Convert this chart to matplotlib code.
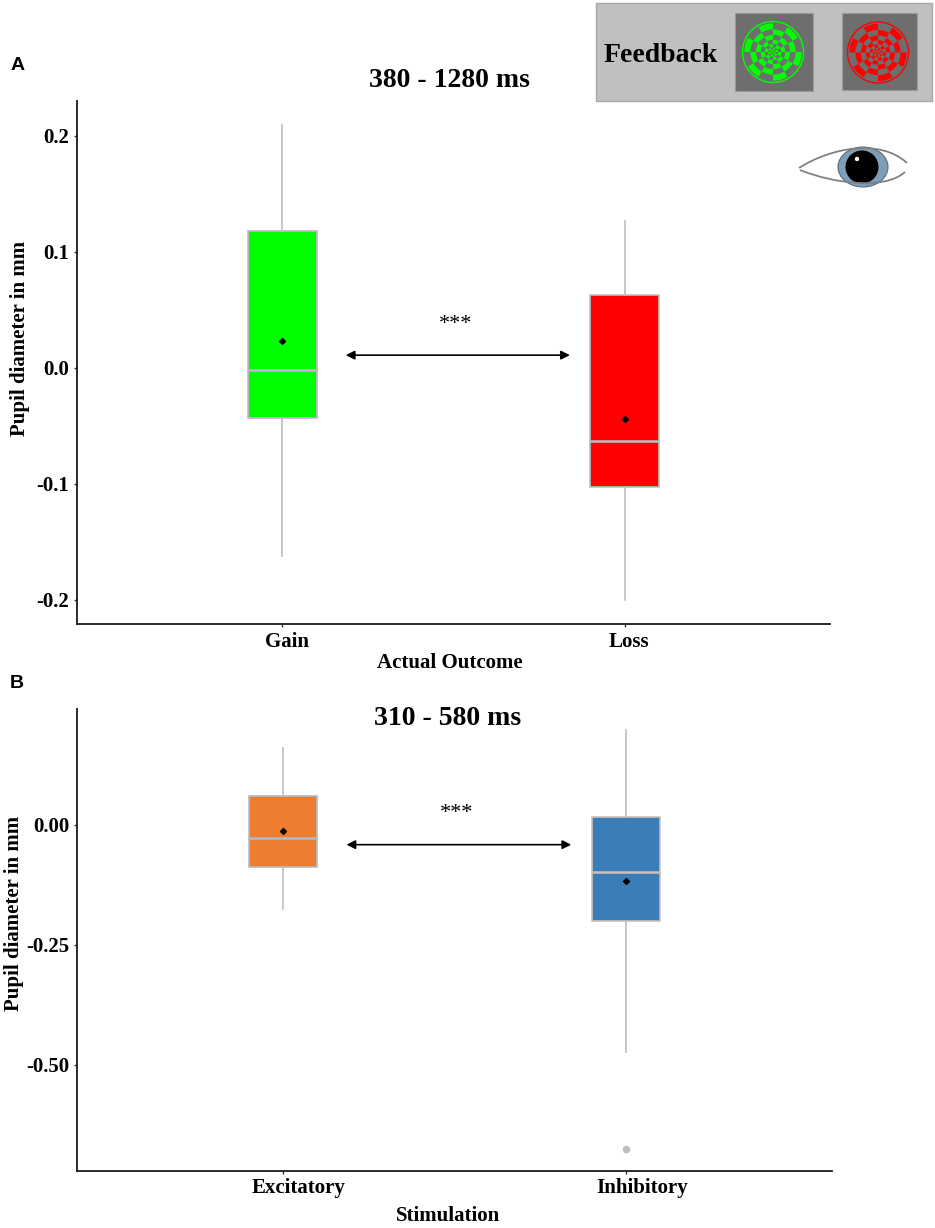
import numpy as np
import matplotlib
matplotlib.use('Agg')
import matplotlib.pyplot as plt
import matplotlib.transforms as mtransforms
from matplotlib.patches import Rectangle, Wedge, Circle, Ellipse, PathPatch
from matplotlib.path import Path

plt.rcParams['font.family'] = ['Liberation Serif', 'DejaVu Serif']
plt.rcParams['font.weight'] = 'bold'
plt.rcParams['axes.labelweight'] = 'bold'

# panel A - actual outcome
outcome_labels = ['Gain', 'Loss']
outcome_whislo = [-0.162, -0.200]
outcome_q1 = [-0.043, -0.103]
outcome_med = [-0.002, -0.063]
outcome_q3 = [0.118, 0.063]
outcome_whishi = [0.209, 0.127]
outcome_mean = [0.023, -0.044]
outcome_fliers = [[], []]
outcome_fill = ['#00FF00', '#FF0000']
outcome_edge = ['#D4AADA', '#A8C8C8']
outcome_yticks = [-0.2, -0.1, 0.0, 0.1, 0.2]
outcome_yticklabels = ['-0.2', '-0.1', '0.0', '0.1', '0.2']

# panel B - stimulation
stim_labels = ['Excitatory', 'Inhibitory']
stim_whislo = [-0.176, -0.473]
stim_q1 = [-0.088, -0.200]
stim_med = [-0.028, -0.098]
stim_q3 = [0.059, 0.015]
stim_whishi = [0.159, 0.196]
stim_mean = [-0.013, -0.117]
stim_fliers = [[], [-0.676]]
stim_fill = ['#ED7D31', '#3A7DB8']
stim_edge = ['#AEBCCA', '#CCC2B9']
stim_yticks = [-0.5, -0.25, 0.0]
stim_yticklabels = ['-0.50', '-0.25', '0.00']

WHISK = '#BEBEBE'


def draw_panel(ax, labels, lo, q1, med, q3, hi, means, fliers, fills, edges,
               yticks, yticklabels, ylim, title, title_xy, xlabel, xlabel_xy,
               ylabel_xy, arrow_y, star_y, label_shift):
    stats = []
    for l, a, b, c, d, e, f in zip(labels, lo, q1, med, q3, hi, fliers):
        stats.append(dict(label=l, whislo=a, q1=b, med=c, q3=d, whishi=e, fliers=f))
    pos = np.arange(1, len(labels) + 1)
    bp = ax.bxp(stats, positions=pos, widths=0.2, patch_artist=True,
                showcaps=False, showfliers=True, manage_ticks=False,
                whiskerprops=dict(color=WHISK, lw=1.2),
                flierprops=dict(marker='o', markersize=4.5, markerfacecolor=WHISK,
                                markeredgecolor=WHISK))
    for box, f, e in zip(bp['boxes'], fills, edges):
        box.set_facecolor(f)
        box.set_edgecolor(e)
        box.set_linewidth(1.2)
    for m, e in zip(bp['medians'], edges):
        m.set_color(e)
        m.set_linewidth(1.8)
    ax.scatter(pos, means, marker='D', s=9, color='black', zorder=5)

    # significance arrow
    ax.annotate('', xy=(1.84, arrow_y), xytext=(1.185, arrow_y),
                arrowprops=dict(arrowstyle='<|-|>', color='black', lw=1.2,
                                mutation_scale=13, shrinkA=0, shrinkB=0))
    ax.text(1.507, star_y, '***', fontsize=16, fontweight='normal',
            ha='center', va='center')

    ax.set_xlim(0.4, 2.6)
    ax.set_ylim(*ylim)
    ax.set_xticks(pos)
    ax.set_xticklabels(labels)
    ax.set_yticks(yticks)
    ax.set_yticklabels(yticklabels)
    for s in ['top', 'right']:
        ax.spines[s].set_visible(False)
    for s in ['left', 'bottom']:
        ax.spines[s].set_linewidth(1.3)
        ax.spines[s].set_color('#1A1A1A')
    ax.tick_params(length=2.5, width=1, color='#333333', labelsize=15, pad=3)

    shift = mtransforms.ScaledTranslation(label_shift / 100, 0, ax.figure.dpi_scale_trans)
    for lab in ax.get_xticklabels():
        lab.set_transform(lab.get_transform() + shift)

    ax.set_xlabel(xlabel, fontsize=15, fontweight='bold')
    ax.xaxis.set_label_coords(*xlabel_xy)
    ax.xaxis.label.set_verticalalignment('center')
    ax.set_ylabel('Pupil diameter in mm', fontsize=15, fontweight='bold')
    ax.yaxis.set_label_coords(*ylabel_xy)
    ax.yaxis.label.set_verticalalignment('center')
    ax.text(title_xy[0], title_xy[1], title, transform=ax.transAxes,
            fontsize=20, ha='center', va='center')


def checker(ov, cx, cy, r, color):
    # radial checkerboard stimulus
    radii = [0.94, 0.74, 0.56, 0.40, 0.27, 0.16, 0.07]
    n = 12
    for i in range(len(radii)):
        outer = radii[i] * r
        width = outer - (radii[i + 1] * r if i + 1 < len(radii) else 0)
        for k in range(n):
            if (k + i) % 2 == 0:
                ov.add_patch(Wedge((cx, cy), outer, k * 360 / n, (k + 1) * 360 / n,
                                   width=width, fc=color, ec='none'))
    ov.add_patch(Circle((cx, cy), r, fc='none', ec=color, lw=1))


fig = plt.figure(figsize=(9.35, 12.28), dpi=100)

axA = fig.add_axes([0.0824, 0.4916, 0.8053, 0.4261])
draw_panel(axA, outcome_labels, outcome_whislo, outcome_q1, outcome_med, outcome_q3,
           outcome_whishi, outcome_mean, outcome_fliers, outcome_fill, outcome_edge,
           outcome_yticks, outcome_yticklabels, (-0.221, 0.230),
           '380 - 1280 ms', (0.495, 1.040), 'Actual Outcome', (0.495, -0.074),
           (-0.0757, 0.547), 0.011, 0.037, 4.5)

axB = fig.add_axes([0.0824, 0.0467, 0.8075, 0.3757])
draw_panel(axB, stim_labels, stim_whislo, stim_q1, stim_med, stim_q3,
           stim_whishi, stim_mean, stim_fliers, stim_fill, stim_edge,
           stim_yticks, stim_yticklabels, (-0.721, 0.240),
           '310 - 580 ms', (0.491, 0.981), 'Stimulation', (0.491, -0.098),
           (-0.0834, 0.557), -0.042, 0.022, 16)

fig.text(18 / 935, 1 - 65 / 1228, 'A', family=['Liberation Sans', 'DejaVu Sans'],
         fontsize=14, fontweight='bold', ha='center', va='center')
fig.text(16.5 / 935, 1 - 684 / 1228, 'B', family=['Liberation Sans', 'DejaVu Sans'],
         fontsize=14, fontweight='bold', ha='center', va='center')

# overlay for the feedback/eye pictograms (pixel space)
ov = fig.add_axes([0, 0, 1, 1], zorder=10)
ov.set_xlim(0, 935)
ov.set_ylim(1228, 0)
ov.axis('off')

ov.add_patch(Rectangle((596, 3), 336, 97.5, fc='#C0C0C0', ec='#A9A9A9', lw=1))
ov.text(661, 56, 'Feedback', fontsize=20, ha='center', va='center')
ov.add_patch(Rectangle((735, 13), 78, 78, fc='#6E6E6E', ec='#9A9A9A', lw=0.8))
ov.add_patch(Rectangle((842, 13), 75, 77, fc='#6E6E6E', ec='#9A9A9A', lw=0.8))
checker(ov, 773, 52, 30.5, '#00FF00')
checker(ov, 878, 52.5, 30.5, '#FF0000')

# eye
upper = Path([(799, 168), (830, 148), (880, 138), (907, 163)],
             [Path.MOVETO, Path.CURVE4, Path.CURVE4, Path.CURVE4])
lower = Path([(800, 170), (835, 184), (885, 190), (905, 172)],
             [Path.MOVETO, Path.CURVE4, Path.CURVE4, Path.CURVE4])
ov.add_patch(Ellipse((863, 167), 50, 40, fc='#7E9DB6', ec='#5A6F80', lw=0.8))
ov.add_patch(Circle((862, 167), 16.5, fc='black', ec='none'))
ov.add_patch(Circle((857, 159), 2.2, fc='white', ec='none'))
ov.add_patch(PathPatch(upper, fc='none', ec='#808080', lw=1.3))
ov.add_patch(PathPatch(lower, fc='none', ec='#808080', lw=1.3))

fig.savefig('out.png', dpi=100)
